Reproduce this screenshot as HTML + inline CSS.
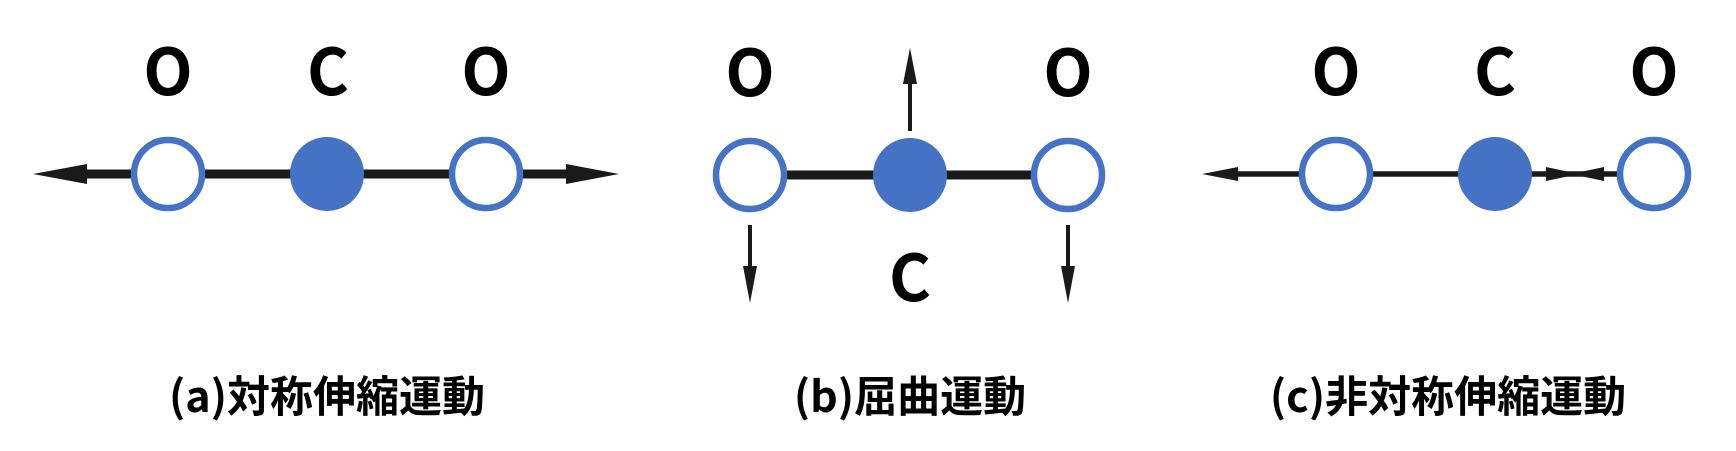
<!DOCTYPE html>
<html><head><meta charset="utf-8"><style>
html,body{margin:0;padding:0;background:#fff;}
svg{display:block;}
text{font-family:"Liberation Sans","Noto Sans CJK JP",sans-serif;font-weight:bold;fill:#000;}
.lbl{font-family:"Noto Sans CJK JP","Liberation Sans",sans-serif;font-size:64px;}
.cap{font-family:"Noto Sans CJK JP","Liberation Sans",sans-serif;font-size:43px;}
</style></head><body>
<svg width="1736" height="451" viewBox="0 0 1736 451" xmlns="http://www.w3.org/2000/svg">
<g fill="#1a1a1a" stroke="#1a1a1a">
<line x1="80" y1="174" x2="575" y2="174" stroke-width="9"/>
<polygon points="33,174 87,164 87,184" stroke="none"/>
<polygon points="619,174 566,164 566,184" stroke="none"/>
<line x1="750" y1="175" x2="1068" y2="175" stroke-width="9"/>
<line x1="910" y1="131" x2="910" y2="80" stroke-width="4"/>
<polygon points="910,48 903,84 917,84" stroke="none"/>
<line x1="750" y1="225" x2="750" y2="270" stroke-width="4"/>
<polygon points="750,303 743,266 757,266" stroke="none"/>
<line x1="1068" y1="225" x2="1068" y2="270" stroke-width="4"/>
<polygon points="1068,303 1061,266 1075,266" stroke="none"/>
<line x1="1230" y1="174" x2="1654" y2="174" stroke-width="5.5"/>
<polygon points="1202,174 1238,167 1238,181" stroke="none"/>
<polygon points="1579,174 1546,167 1546,181" stroke="none"/>
<polygon points="1571,174 1604,167 1604,181" stroke="none"/>
</g>
<g stroke="#4472c4" stroke-width="6.5">
<circle cx="168" cy="174" r="34" fill="#fff"/>
<circle cx="327" cy="174" r="37" fill="#4472c4" stroke="none"/>
<circle cx="486" cy="174" r="34" fill="#fff"/>
<circle cx="750" cy="175" r="34" fill="#fff"/>
<circle cx="910" cy="175" r="37" fill="#4472c4" stroke="none"/>
<circle cx="1068" cy="175" r="34" fill="#fff"/>
<circle cx="1336" cy="174" r="34" fill="#fff"/>
<circle cx="1495" cy="174" r="37" fill="#4472c4" stroke="none"/>
<circle cx="1654" cy="174" r="34" fill="#fff"/>
</g>
<g text-anchor="middle">
<text class="lbl" x="168" y="95">O</text>
<text class="lbl" x="328" y="95">C</text>
<text class="lbl" x="486" y="95">O</text>
<text class="lbl" x="750" y="96">O</text>
<text class="lbl" x="1068" y="96">O</text>
<text class="lbl" x="910" y="301">C</text>
<text class="lbl" x="1336" y="95">O</text>
<text class="lbl" x="1495" y="95">C</text>
<text class="lbl" x="1654" y="95">O</text>
</g>
<text class="cap" x="327" y="412" text-anchor="middle">(a)対称伸縮運動</text>
<text class="cap" x="910" y="412" text-anchor="middle">(b)屈曲運動</text>
<text class="cap" x="1448" y="412" text-anchor="middle">(c)非対称伸縮運動</text>
</svg>
</body></html>
